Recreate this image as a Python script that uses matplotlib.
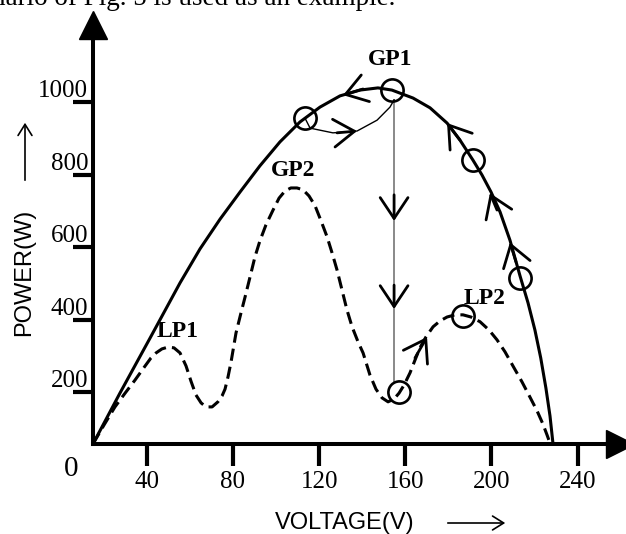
import matplotlib
matplotlib.use("Agg")
import matplotlib.pyplot as plt

# P-V curves (voltage in V, power in W)
uniform_v = [15.0, 27.5, 41.5, 55.4, 64.7, 74.0, 83.3, 92.5, 101.8, 111.1, 120.4, 129.7,
             139.0, 147.3, 153.8, 163.6, 171.5, 179.4, 185.4, 191.4, 195.6, 199.8, 204.0,
             208.6, 213.3, 217.0, 220.2, 222.9, 225.3, 227.2, 228.6]
uniform_p = [58, 198, 350, 502, 596, 678, 753, 825, 891, 946, 987, 1018,
             1034, 1040, 1034, 1012, 985, 943, 896, 841, 800, 753, 698,
             620, 521, 447, 372, 295, 212, 135, 58]

shaded_v = [15.0, 20.1, 25.2, 29.9, 34.5, 39.2, 41.9, 44.3, 47.0, 49.8, 52.6, 55.4, 58.2,
            60.5, 62.8, 65.2, 67.5, 70.3, 73.0, 74.9, 76.3, 77.7, 79.1, 81.4, 83.7, 85.6,
            87.9, 90.2, 92.5, 95.3, 98.6, 101.4, 104.2, 106.9, 109.7, 112.5, 115.3, 118.1,
            120.9, 123.7, 126.0, 128.3, 130.6, 132.9, 135.3, 138.1, 140.4, 143.6, 146.4,
            149.2, 152.0, 154.8, 157.1, 159.4, 162.2, 164.5, 166.8, 169.6, 172.9, 176.1,
            179.4, 183.1, 186.8, 190.5, 194.7, 198.9, 202.6, 206.3, 210.0, 214.2, 217.9,
            221.2, 223.9, 225.8, 227.2]
shaded_p = [58, 110, 160, 198, 234, 273, 295, 309, 320, 325, 323, 309, 273,
            231, 193, 171, 160, 160, 174, 190, 209, 243, 284, 364, 419, 463,
            518, 574, 618, 662, 703, 736, 756, 764, 764, 759, 742, 715,
            673, 629, 585, 538, 483, 428, 381, 339, 309, 248, 209,
            185, 174, 182, 198, 220, 254, 289, 323, 353, 381, 397,
            408, 414, 414, 408, 395, 372, 345, 312, 273, 229, 187,
            149, 113, 83, 60]

# operating points visited by the tracker (circles)
track_v = [113.4, 153.8, 191.4, 213.3, 186.8, 157.1]
track_p = [957, 1034, 841, 516, 411, 201]

# thin jump from the left circle back to GP1, then the drop to the shaded curve
jump_v = [113.4, 115.8, 126.4, 137.6, 146.9, 152.9, 154.8]
jump_p = [957, 929, 916, 921, 951, 987, 1007]
drop_v = [154.8, 154.8]
drop_p = [1007, 226]

# direction chevrons: (tail_v, tail_p, tip_v, tip_p)
chevrons = [
    (140.4, 1037, 131.1, 1020),
    (128.3, 916, 137.6, 921),
    (185.4, 896, 179.4, 943),
    (202.6, 703, 199.3, 750),
    (211.4, 560, 208.6, 614),
    (154.8, 745, 154.8, 673),
    (154.8, 496, 154.8, 430),
    (164.5, 295, 170.1, 353),
]

# point labels
peak_names = ["GP1", "GP2", "LP1", "LP2"]
peak_v = [152.9, 107.9, 54.5, 197.0]
peak_p = [1117, 813, 369, 460]

x_ticks = [40, 80, 120, 160, 200, 240]
y_ticks = [200, 400, 600, 800, 1000]

V_LO, V_HI = 15.0, 259.7
P_LO, P_HI = 57.7, 1213.5

serif = "Liberation Serif"
sans = "Liberation Sans"
plt.rcParams["font.family"] = serif

fig = plt.figure(figsize=(6.26, 5.34), dpi=100)
ax = fig.add_axes([0.14856, 0.16854, 0.84185, 0.78464])
ax.set_xlim(V_LO, V_HI)
ax.set_ylim(P_LO, P_HI)

for side in ["top", "right"]:
    ax.spines[side].set_visible(False)
for side in ["left", "bottom"]:
    ax.spines[side].set_linewidth(2.9)

# axis arrowheads
ax.plot([V_LO], [P_HI], marker="^", ms=20, color="black", clip_on=False, zorder=5)
ax.plot([V_HI], [P_LO], marker=">", ms=20, color="black", clip_on=False, zorder=5)

ax.set_xticks(x_ticks, labels=[str(t) for t in x_ticks])
ax.set_yticks(y_ticks, labels=[str(t) for t in y_ticks], va="bottom")
ax.tick_params(axis="x", direction="out", length=16, width=3, pad=3.5, labelsize=18)
ax.tick_params(axis="y", direction="out", length=14.4, width=3, pad=-11, labelsize=18)
ax.text(5, -12, "0", fontsize=21, ha="center", va="center", clip_on=False)

# curves
ax.plot(uniform_v, uniform_p, color="black", lw=2.2, solid_joinstyle="round", zorder=3)
line, = ax.plot(shaded_v, shaded_p, color="black", lw=2.2, zorder=3)
line.set_dashes([4, 2])
ax.plot(jump_v, jump_p, color="black", lw=1.0, zorder=3)
ax.plot(drop_v, drop_p, color="#808080", lw=1.3, zorder=2)
ax.plot(track_v, track_p, "o", ms=16, mfc="none", mec="black", mew=1.9, zorder=4)

for tv, tp, hv, hp in chevrons:
    ax.annotate("", xy=(hv, hp), xytext=(tv, tp),
                arrowprops=dict(arrowstyle="->, head_length=0.75, head_width=0.5",
                                mutation_scale=20, lw=2.0, color="black",
                                shrinkA=0, shrinkB=0))

for name, v, p in zip(peak_names, peak_v, peak_p):
    ax.text(v, p, name, fontsize=17, fontweight="bold", ha="center", va="center")

# axis titles with their arrows
fig.text(345 / 626, 11 / 534, "VOLTAGE(V)", family=sans, fontsize=17, ha="center", va="center")
fig.text(24 / 626, 262 / 534, "POWER(W)", family=sans, fontsize=17, rotation=90,
         ha="center", va="center")
fig.add_artist(matplotlib.patches.FancyArrowPatch(
    (445 / 626, 11 / 534), (508 / 626, 11 / 534), transform=fig.transFigure,
    arrowstyle="->, head_length=0.4, head_width=0.25", mutation_scale=20, lw=1.2, color="black"))
fig.add_artist(matplotlib.patches.FancyArrowPatch(
    (25 / 626, 351 / 534), (25 / 626, 414 / 534), transform=fig.transFigure,
    arrowstyle="->, head_length=0.4, head_width=0.25", mutation_scale=20, lw=1.2, color="black"))

# cut-off caption line from the page above the figure
fig.text(-0.012, 0.991, "nario of Fig. 5 is used as an example.", fontsize=19.5,
         ha="left", va="baseline")

fig.savefig("out.png", dpi=100)
